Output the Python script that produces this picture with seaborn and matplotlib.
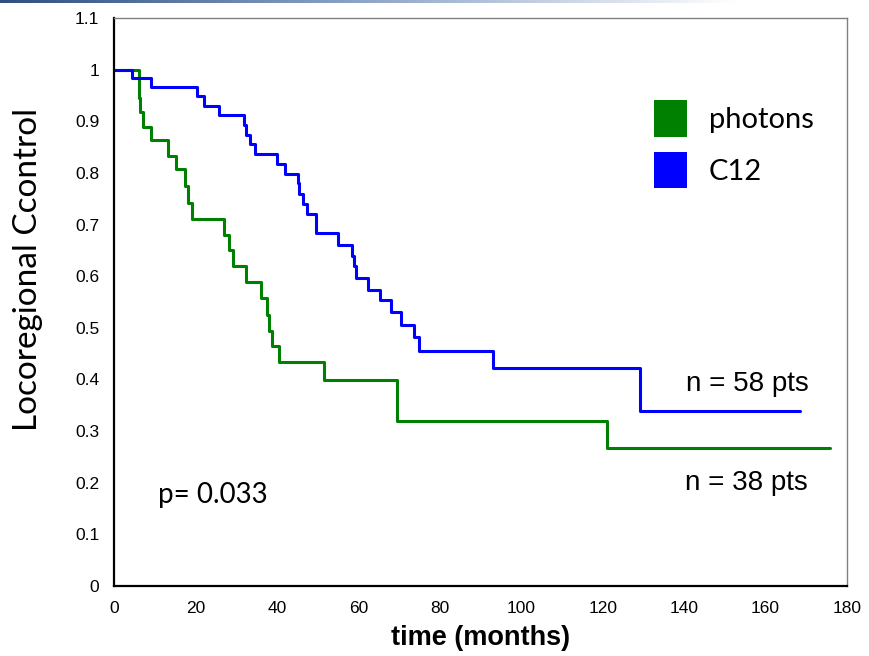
import numpy as np
import pandas as pd
import seaborn as sns
import matplotlib as mpl
mpl.use('Agg')
import matplotlib.pyplot as plt
from matplotlib.patches import Patch
from matplotlib.colors import LinearSegmentedColormap

# Kaplan-Meier step data
c12_time = [0, 4.5, 9.0, 20.5, 22.1, 25.8, 31.9, 32.3, 33.4, 34.6, 40.0, 42.0,
            45.1, 45.4, 46.5, 47.4, 49.5, 55.1, 58.4, 59.0, 59.5, 62.3, 65.2,
            68.0, 70.4, 73.7, 74.9, 93.0, 129.2, 168.5]
c12_surv = [1.0, 0.983, 0.966, 0.948, 0.930, 0.912, 0.893, 0.874, 0.856, 0.837,
            0.818, 0.798, 0.780, 0.760, 0.740, 0.721, 0.683, 0.661, 0.640, 0.619,
            0.597, 0.574, 0.553, 0.530, 0.506, 0.482, 0.455, 0.423, 0.338, 0.338]

photon_time = [0, 6.1, 6.5, 7.0, 9.0, 13.2, 15.2, 17.4, 18.1, 19.1, 27.1, 28.3,
               29.1, 32.3, 36.0, 37.6, 38.1, 38.7, 40.4, 51.5, 69.5, 121.0, 175.8]
photon_surv = [1.0, 0.945, 0.918, 0.889, 0.863, 0.833, 0.808, 0.774, 0.742, 0.711,
               0.680, 0.650, 0.619, 0.589, 0.557, 0.525, 0.494, 0.464, 0.433, 0.399,
               0.320, 0.268, 0.268]

groups = ['photons', 'C12']
colors = {'photons': '#008000', 'C12': '#0000FF'}
xticks = list(range(0, 181, 20))
yticks = [0, 0.1, 0.2, 0.3, 0.4, 0.5, 0.6, 0.7, 0.8, 0.9, 1.0, 1.1]
ytick_labels = ['0', '0.1', '0.2', '0.3', '0.4', '0.5', '0.6', '0.7', '0.8', '0.9', '1', '1.1']

df = pd.concat([
    pd.DataFrame({'time': photon_time, 'surv': photon_surv, 'group': 'photons'}),
    pd.DataFrame({'time': c12_time, 'surv': c12_surv, 'group': 'C12'}),
], ignore_index=True)

sns.set_style('white', rc={'text.color': 'black', 'axes.labelcolor': 'black',
                           'xtick.color': 'black', 'ytick.color': 'black'})
plt.rcParams['font.family'] = ['Liberation Sans', 'DejaVu Sans']

fig = plt.figure(figsize=(8.69, 6.56), dpi=100)
ax = fig.add_axes([114 / 869, 1 - 586 / 656, 733 / 869, 568 / 656])

sns.lineplot(data=df, x='time', y='surv', hue='group', palette=colors,
             drawstyle='steps-post', estimator=None, sort=False,
             linewidth=2.2, legend=False, ax=ax)

ax.set_xlim(0, 180)
ax.set_ylim(0, 1.1)
ax.set_xticks(xticks)
ax.set_yticks(yticks)
ax.set_yticklabels(ytick_labels)
ax.tick_params(direction='inout', length=9, width=1.5, colors='black',
               labelsize=12.5, pad=6)

for side in ['left', 'bottom']:
    ax.spines[side].set_color('black')
    ax.spines[side].set_linewidth(1.6)
for side in ['top', 'right']:
    ax.spines[side].set_color('#808080')
    ax.spines[side].set_linewidth(1.0)

ax.set_xlabel('time (months)', fontsize=19.5, fontweight='bold', labelpad=7)
ax.set_ylabel('Locoregional Ccontrol', fontsize=24, family=['Lato', 'DejaVu Sans'])
ax.yaxis.set_label_coords(-0.097, 0.557)

handles = [Patch(facecolor=colors[g], edgecolor='none') for g in groups]
ax.legend(handles, groups, loc='upper left', bbox_to_anchor=(0.737, 0.856),
          frameon=False, borderpad=0, borderaxespad=0, handlelength=1.13,
          handleheight=1.57, handletextpad=0.75, labelspacing=0.51,
          prop={'family': ['Lato', 'DejaVu Sans'], 'size': 21})

ax.text(140.5, 0.377, 'n = 58 pts', fontsize=20, va='baseline', ha='left')
ax.text(140.3, 0.186, 'n = 38 pts', fontsize=20, va='baseline', ha='left')
ax.text(10.8, 0.160, 'p= 0.033', fontsize=20, va='baseline', ha='left',
        family=['Lato', 'DejaVu Sans'])

# slide header strip at the very top
cmap = LinearSegmentedColormap.from_list('hdr', ['#2F4F80', '#8FA6C8', '#FFFFFF'])
hdr = fig.add_axes([0, 1 - 3 / 656, 0.85, 3 / 656])
hdr.imshow(np.linspace(0, 1, 256).reshape(1, -1), aspect='auto', cmap=cmap)
hdr.axis('off')

fig.savefig('out.png', dpi=100)
